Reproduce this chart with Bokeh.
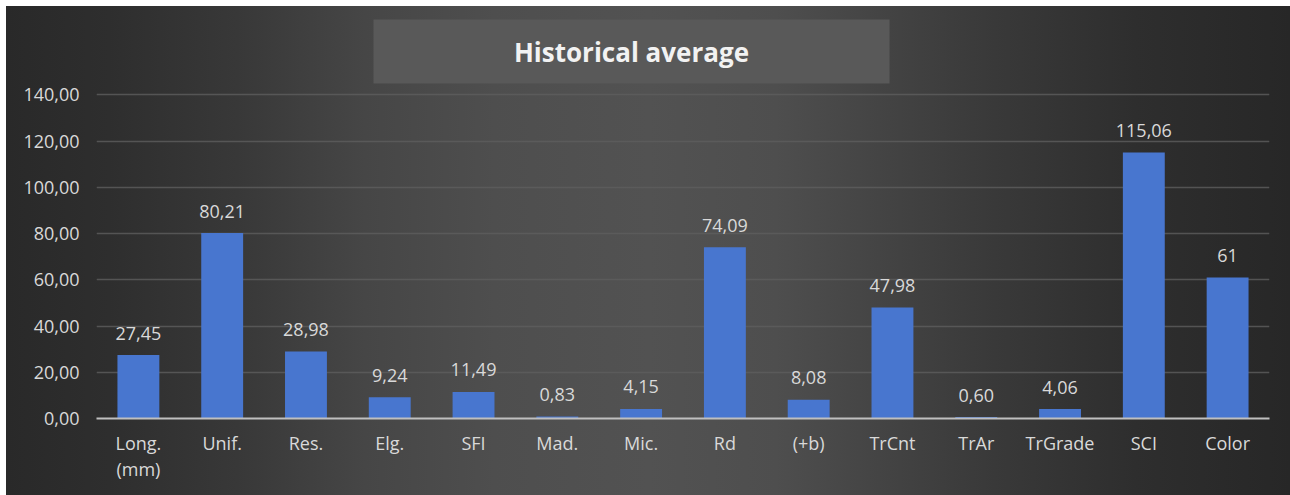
from bokeh.plotting import figure
from bokeh.models import FactorRange, Range1d, FixedTicker, ColumnDataSource
from bokeh.core.properties import value
from bokeh.embed import file_html
from bokeh.resources import INLINE

# ---- data ----
categories = ["Long.\n(mm)", "Unif.", "Res.", "Elg.", "SFI", "Mad.", "Mic.", "Rd",
              "(+b)", "TrCnt", "TrAr", "TrGrade", "SCI", "Color"]
values = [27.45, 80.21, 28.98, 9.24, 11.49, 0.83, 4.15, 74.09, 8.08, 47.98, 0.60, 4.06, 115.06, 61]
value_labels = ["27,45", "80,21", "28,98", "9,24", "11,49", "0,83", "4,15", "74,09",
                "8,08", "47,98", "0,60", "4,06", "115,06", "61"]
y_ticks = [0, 20, 40, 60, 80, 100, 120, 140]
title_text = "Historical average"

# ---- layout constants (title box drawn in the frame's upper, tick-free zone) ----
Y_TOP = 176
TITLE_BOX = dict(left=3.306, right=9.465, bottom=144.9, top=172.5)
TITLE_POS = dict(x=6.385, y=158.7)

FONT = "Open Sans"
LABEL_COLOR = "#d9d9d9"

src = ColumnDataSource(dict(cat=categories, val=values, lab=value_labels))

p = figure(
    x_range=FactorRange(*categories),
    y_range=Range1d(0, Y_TOP),
    width=1284, height=489,
    output_backend="svg", toolbar_location=None,
    min_border_left=90, min_border_right=21, min_border_top=5, min_border_bottom=77,
)
p.margin = (6, 0, 0, 6)
p.background_fill_color = None
p.border_fill_color = None
p.outline_line_color = None
p.styles = {
    "background": "linear-gradient(to right, #292929 0%, #2e2e2e 8%, #383838 18%, #464646 28%, "
                  "#4e4e4e 38%, #525252 50%, #4e4e4e 60%, #444444 68%, #393939 77%, "
                  "#2e2e2e 88%, #272727 100%)"
}

# title box + title text
p.quad(left=[TITLE_BOX["left"]], right=[TITLE_BOX["right"]],
       bottom=[TITLE_BOX["bottom"]], top=[TITLE_BOX["top"]],
       fill_color="#595959", line_color=None)
p.text(x=[TITLE_POS["x"]], y=[TITLE_POS["y"]], text=[title_text],
       text_align="center", text_baseline="middle",
       text_font=value(FONT), text_font_style="bold", text_font_size="26px",
       text_color="#f2f2f2")

p.vbar(x="cat", top="val", width=0.5, source=src, fill_color="#4876cf", line_color=None)

p.text(x="cat", y="val", text="lab", source=src, text_align="center", text_baseline="alphabetic",
       y_offset=-22, text_font=value(FONT), text_font_size="18px", text_color=LABEL_COLOR)

# y axis
p.yaxis.ticker = FixedTicker(ticks=y_ticks)
p.yaxis.major_label_overrides = {t: f"{t:.2f}".replace(".", ",") for t in y_ticks}
p.yaxis.axis_line_color = None
p.yaxis.major_tick_line_color = None
p.yaxis.minor_tick_line_color = None
p.yaxis.major_tick_out = 0
p.yaxis.major_label_standoff = 17
p.yaxis.major_label_text_font = FONT
p.yaxis.major_label_text_font_size = "18px"
p.yaxis.major_label_text_color = LABEL_COLOR

# x axis
p.xaxis.axis_line_color = "#bfbfbf"
p.xaxis.axis_line_width = 2
p.xaxis.major_tick_line_color = None
p.xaxis.minor_tick_line_color = None
p.xaxis.major_tick_out = 0
p.xaxis.major_label_standoff = 12
p.xaxis.major_label_text_font = FONT
p.xaxis.major_label_text_font_size = "18px"
p.xaxis.major_label_text_color = LABEL_COLOR
p.xaxis.major_label_text_line_height = 1.1

p.xgrid.grid_line_color = None
p.ygrid.grid_line_color = "#5e5e5e"
p.ygrid.grid_line_alpha = 0.8
p.ygrid.grid_line_width = 1.5

open("out.html", "w").write(file_html(p, INLINE))
